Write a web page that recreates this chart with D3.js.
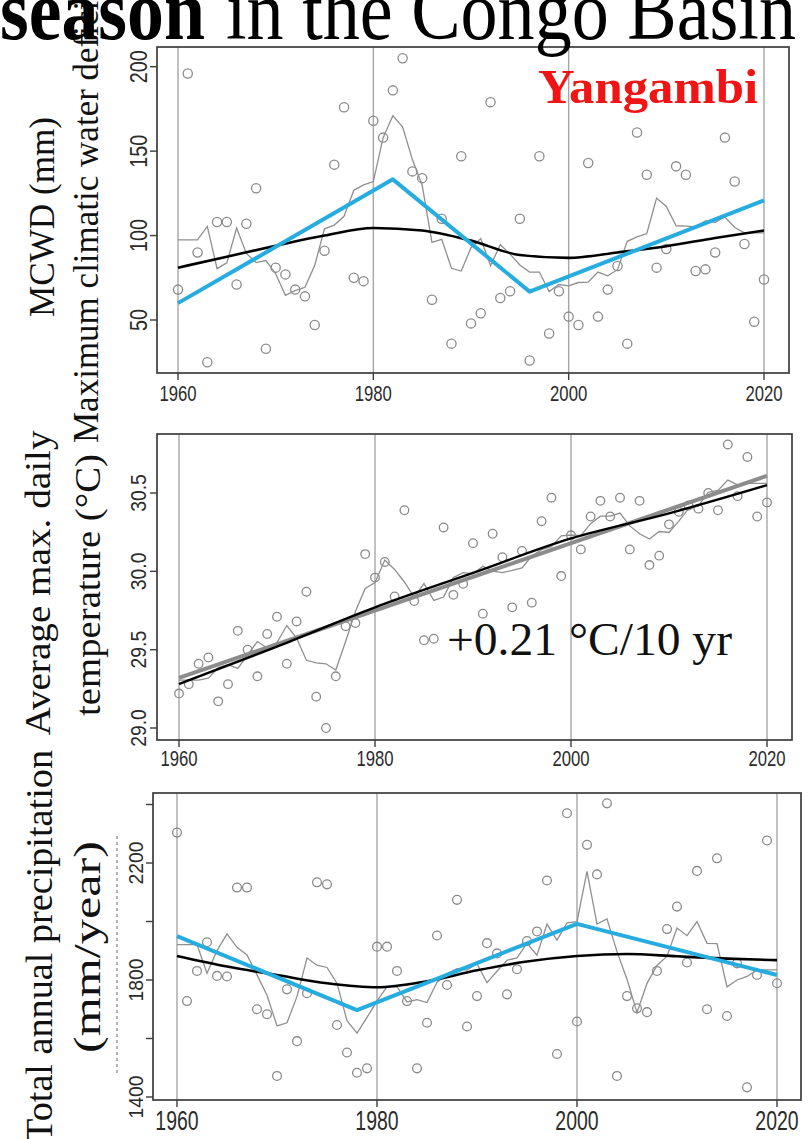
<!DOCTYPE html>
<html><head><meta charset="utf-8">
<script src="https://cdn.jsdelivr.net/npm/d3@7"></script>
<style>html,body{margin:0;padding:0;background:#fff;overflow:hidden}</style>
</head><body><svg id="c" width="812" height="1139" xmlns="http://www.w3.org/2000/svg"></svg>
<script>
// ---------------- data ----------------
const years = [1960,1961,1962,1963,1964,1965,1966,1967,1968,1969,1970,1971,1972,1973,1974,1975,1976,1977,1978,1979,
  1980,1981,1982,1983,1984,1985,1986,1987,1988,1989,1990,1991,1992,1993,1994,1995,1996,1997,1998,1999,
  2000,2001,2002,2003,2004,2005,2006,2007,2008,2009,2010,2011,2012,2013,2014,2015,2016,2017,2018,2019,2020];

const mcwd = [68,196,90,25,108,108,71,107,128,33,81,77,68,64,47,91,142,176,75,73,
  168,158,186,205,138,134,62,110,36,147,48,54,179,63,67,110,26,147,42,67,
  52,47,143,52,68,82,36,161,136,81,92,141,136,79,80,90,158,132,95,49,74];

const tmax = [29.22,29.28,29.41,29.45,29.17,29.28,29.62,29.50,29.33,29.60,29.71,29.41,29.68,29.87,29.20,29.00,29.33,29.65,29.67,30.11,
  29.96,30.06,29.84,30.39,29.81,29.56,29.57,30.28,29.85,29.92,30.18,29.73,30.24,30.09,29.77,30.13,29.80,30.32,30.47,29.97,
  30.23,30.14,30.35,30.45,30.35,30.47,30.14,30.45,30.04,30.10,30.30,30.38,30.42,30.40,30.50,30.39,30.81,30.48,30.73,30.35,30.44];

const precip = [2304,1728,1831,1929,1814,1812,2116,2116,1700,1683,1472,1768,1591,1755,2134,2127,1646,1552,1483,1498,
  1914,1914,1831,1728,1498,1654,1952,1783,2074,1641,1745,1926,1891,1751,1837,1933,1966,2140,1547,2370,
  1658,2262,2161,2404,1472,1745,1703,1690,1831,1974,2051,1860,2173,1700,2216,1677,1857,1433,1817,2277,1789];

// smooth (black) curves, read every 5 / 10 years
const smoothYears = [1960,1965,1970,1975,1980,1985,1990,1995,2000,2005,2010,2015,2020];
const mcwdSmooth = [81,87.5,94,100,104.5,103,97,88.5,86.8,90,93.7,98.6,103];
const precipSmooth = [1882,1846,1817,1789,1775,1796,1833,1863,1882,1889,1881,1873,1868];
const tmaxSmoothYears = [1960,1970,1980,1990,2000,2010,2020];
const tmaxSmooth = [29.28,29.52,29.77,29.99,30.21,30.37,30.55];

// linear trend (grey, temperature)
const tmaxTrendYears = [1960,2020];
const tmaxTrend = [29.32,30.61];

// segmented regressions (blue)
const mcwdBreakYears = [1960,1982,1996,2020];
const mcwdBreak = [60,133.3,66.8,120.8];
const precipBreakYears = [1960,1978,2000,2020];
const precipBreak = [1950,1697,1992,1817];

// ticks
const xTicks = [1960,1980,2000,2020];
const mcwdTicks = [50,100,150,200];
const mcwdTickLabels = ["50","100","150","200"];
const tmaxTicks = [29.0,29.5,30.0,30.5];
const tmaxTickLabels = ["29.0","29.5","30.0","30.5"];
const precipTicks = [1400,1600,1800,2000,2200,2400];
const precipTickLabels = ["1400","","1800","","2200",""];

// 5-year centred running mean of the observations (grey thin line)
function runningMean(vals, k) {
  const n = vals.length;
  return vals.map((_, i) => {
    const c = Math.min(Math.max(i, k), n - 1 - k);
    return d3.mean(vals.slice(c - k, c + k + 1));
  });
}

// ---------------- drawing ----------------
const svg = d3.select("#c");
const BLUE = "#27ace0";
const PT = "#8a8a8a";
const SANS = "'Liberation Sans', Arial, sans-serif";
const SERIF = "'Liberation Serif', 'Times New Roman', serif";

function fitText(sel, sx) {
  sel.each(function () {
    const w = this.getComputedTextLength();
    if (w > 0) d3.select(this).attr("textLength", w * sx).attr("lengthAdjust", "spacingAndGlyphs");
  });
}

const panels = [
  { id: "p1", frame: [157, 789, 47, 373], xr: [178, 764], yd: [50, 200], yr: [320, 66.7],
    vals: mcwd, ticks: mcwdTicks, tickLabels: mcwdTickLabels, r: 4.6,
    xLabY: 401, xLabSize: 22, xLabSx: 0.76, yLabX: 147, yLabSize: 23, yLabSx: 0.86,
    extra: [
      { xs: smoothYears, ys: mcwdSmooth, color: "#000", w: 2.6, curve: d3.curveMonotoneX },
      { xs: mcwdBreakYears, ys: mcwdBreak, color: BLUE, w: 4, curve: d3.curveLinear }
    ] },
  { id: "p2", frame: [157, 792, 434, 740], xr: [179, 767], yd: [29.0, 30.5], yr: [728, 493],
    vals: tmax, ticks: tmaxTicks, tickLabels: tmaxTickLabels, r: 4.3,
    xLabY: 766, xLabSize: 22, xLabSx: 0.76, yLabX: 146, yLabSize: 22, yLabSx: 0.88,
    extra: [
      { xs: tmaxTrendYears, ys: tmaxTrend, color: "#8c8c8c", w: 4, curve: d3.curveLinear },
      { xs: tmaxSmoothYears, ys: tmaxSmooth, color: "#000", w: 2.4, curve: d3.curveMonotoneX }
    ] },
  { id: "p3", frame: [153, 801, 793, 1100], xr: [177, 777], yd: [1400, 2200], yr: [1097, 863],
    vals: precip, ticks: precipTicks, tickLabels: precipTickLabels, r: 4.4,
    xLabY: 1130, xLabSize: 27, xLabSx: 0.72, yLabX: 143, yLabSize: 21, yLabSx: 0.92,
    extra: [
      { xs: smoothYears, ys: precipSmooth, color: "#000", w: 2.6, curve: d3.curveMonotoneX },
      { xs: precipBreakYears, ys: precipBreak, color: BLUE, w: 4, curve: d3.curveLinear }
    ] }
];

const defs = svg.append("defs");

panels.forEach(p => {
  const [fx0, fx1, fy0, fy1] = p.frame;
  const x = d3.scaleLinear().domain([1960, 2020]).range(p.xr);
  const y = d3.scaleLinear().domain(p.yd).range(p.yr);
  const g = svg.append("g");

  defs.append("clipPath").attr("id", "clip-" + p.id)
    .append("rect").attr("x", fx0).attr("y", fy0).attr("width", fx1 - fx0).attr("height", fy1 - fy0);

  // vertical grid lines at the year ticks
  g.selectAll("line.grid").data(xTicks).join("line")
    .attr("x1", d => x(d)).attr("x2", d => x(d)).attr("y1", fy0).attr("y2", fy1)
    .attr("stroke", "#a6a6a6").attr("stroke-width", 1.4);

  const inner = g.append("g").attr("clip-path", `url(#clip-${p.id})`);

  // observations
  inner.selectAll("circle").data(years.map((yr, i) => [yr, p.vals[i]])).join("circle")
    .attr("cx", d => x(d[0])).attr("cy", d => y(d[1])).attr("r", p.r)
    .attr("fill", "none").attr("stroke", PT).attr("stroke-width", 1.3);

  // running mean
  const rm = runningMean(p.vals, 2);
  inner.append("path")
    .attr("d", d3.line().x((d, i) => x(years[i])).y(d => y(d))(rm))
    .attr("fill", "none").attr("stroke", "#8f8f8f").attr("stroke-width", 1.3);

  // smooth / trend / segmented lines
  p.extra.forEach(e => {
    inner.append("path")
      .attr("d", d3.line().curve(e.curve).x((d, i) => x(e.xs[i])).y(d => y(d))(e.ys))
      .attr("fill", "none").attr("stroke", e.color).attr("stroke-width", e.w)
      .attr("stroke-linejoin", "round");
  });

  // frame
  g.append("rect").attr("x", fx0).attr("y", fy0).attr("width", fx1 - fx0).attr("height", fy1 - fy0)
    .attr("fill", "none").attr("stroke", "#3c3c3c").attr("stroke-width", 1.7);

  // x axis ticks + labels
  g.selectAll("line.xt").data(xTicks).join("line")
    .attr("x1", d => x(d)).attr("x2", d => x(d)).attr("y1", fy1).attr("y2", fy1 + 7)
    .attr("stroke", "#3c3c3c").attr("stroke-width", 1.4);
  const xl = g.selectAll("text.xl").data(xTicks).join("text")
    .attr("x", d => x(d)).attr("y", p.xLabY).attr("text-anchor", "middle")
    .attr("font-family", SANS).attr("font-size", p.xLabSize).attr("fill", "#2b2b2b")
    .text(d => String(d));
  fitText(xl, p.xLabSx);

  // y axis ticks + labels
  g.selectAll("line.yt").data(p.ticks).join("line")
    .attr("x1", fx0 - 7).attr("x2", fx0).attr("y1", d => y(d)).attr("y2", d => y(d))
    .attr("stroke", "#3c3c3c").attr("stroke-width", 1.4);
  const yl = g.selectAll("text.yl").data(p.ticks.map((t, i) => [t, p.tickLabels[i]]).filter(d => d[1] !== ""))
    .join("text")
    .attr("transform", d => `translate(${p.yLabX},${y(d[0])}) rotate(-90)`)
    .attr("text-anchor", "middle")
    .attr("font-family", SANS).attr("font-size", p.yLabSize).attr("fill", "#2b2b2b")
    .text(d => d[1]);
  fitText(yl, p.yLabSx);
});

// ---------------- texts ----------------
function rotLabel(txt, x, y, size, len, anchor) {
  svg.append("text").attr("transform", `translate(${x},${y}) rotate(-90)`)
    .attr("text-anchor", anchor || "middle").attr("font-family", SERIF).attr("font-size", size)
    .attr("fill", "#111").attr("textLength", len).attr("lengthAdjust", "spacingAndGlyphs").text(txt);
}
rotLabel("MCWD (mm)", 54, 217, 35, 200);
rotLabel("Maximum climatic water deficit", 98, 443, 35, 452, "start");
rotLabel("Average max. daily", 50, 583, 36, 305);
rotLabel("temperature (°C)", 100, 585, 36, 262);
rotLabel("Total annual precipitation", 52, 946, 38, 392);
rotLabel("(mm/year)", 100, 947, 38, 212);

// artefact dashed line left of the precipitation axis
svg.append("line").attr("x1", 117).attr("x2", 117).attr("y1", 836).attr("y2", 1075)
  .attr("stroke", "#666").attr("stroke-width", 1).attr("stroke-dasharray", "3,3");

// title (cut at the top)
svg.append("rect").attr("x", 0).attr("y", 0).attr("width", 812).attr("height", 0).attr("fill", "#fff");
svg.append("text").attr("x", 0).attr("y", 39).attr("font-family", SERIF).attr("font-weight", "bold")
  .attr("font-size", 84).attr("textLength", 205).attr("lengthAdjust", "spacingAndGlyphs").attr("fill", "#000").text("season");
svg.append("text").attr("x", 226).attr("y", 39).attr("font-family", SERIF)
  .attr("font-size", 84).attr("textLength", 570).attr("lengthAdjust", "spacingAndGlyphs").attr("fill", "#000").text("in the Congo Basin");

// station name and trend annotation
svg.append("text").attr("x", 538).attr("y", 103).attr("font-family", SERIF).attr("font-weight", "bold")
  .attr("font-size", 49).attr("fill", "#f01414").attr("textLength", 220).attr("lengthAdjust", "spacingAndGlyphs").text("Yangambi");
svg.append("text").attr("x", 447).attr("y", 655).attr("font-family", SERIF)
  .attr("font-size", 46).attr("fill", "#111").attr("textLength", 285).attr("lengthAdjust", "spacingAndGlyphs").text("+0.21 °C/10 yr");
</script></body></html>
